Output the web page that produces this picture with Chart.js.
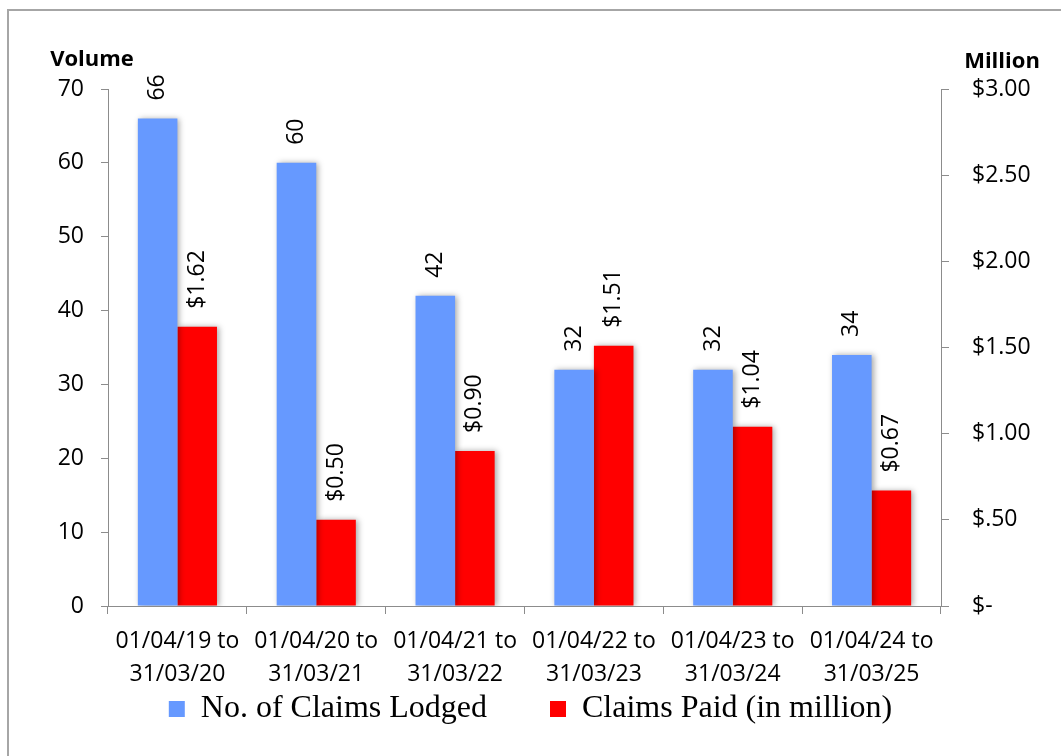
<!DOCTYPE html>
<html>
<head>
<meta charset="utf-8">
<script src="https://cdn.jsdelivr.net/npm/chart.js@4/dist/chart.umd.min.js"></script>
<style>
  html, body { margin: 0; padding: 0; background: #fff; overflow: hidden; }
  #frame { position: absolute; left: 7px; top: 9px; width: 1100px; height: 800px; border: 2px solid #a6a6a6; }
  #wrap { position: absolute; left: 0; top: 0; width: 1061px; height: 756px; }
</style>
</head>
<body>
<div id="frame"></div>
<div id="wrap"><canvas id="claimsChart" width="1061" height="756"></canvas></div>
<script>
// periods shown on the x axis (two lines each)
const periods = [
  ['01/04/19 to', '31/03/20'],
  ['01/04/20 to', '31/03/21'],
  ['01/04/21 to', '31/03/22'],
  ['01/04/22 to', '31/03/23'],
  ['01/04/23 to', '31/03/24'],
  ['01/04/24 to', '31/03/25']
];
const claimsLodged = [66, 60, 42, 32, 32, 34];
const claimsPaid = [1.62, 0.50, 0.90, 1.51, 1.04, 0.67];

const volumeTicks = [0, 10, 20, 30, 40, 50, 60, 70];
const millionTicks = [0, 0.5, 1, 1.5, 2, 2.5, 3];

const tickFont = { family: '"Open Sans", sans-serif', size: 23 };
const axisGrey = '#8c8c8c';

function moneyLabel(v) {
  if (v === 0) return '$-';
  const s = v.toFixed(2);
  return '$' + (v < 1 ? s.slice(1) : s);
}

// soft shadow behind the bars
const barShadow = {
  id: 'barShadow',
  beforeDatasetDraw(chart) {
    const c = chart.ctx;
    c.save();
    c.shadowColor = 'rgba(0,0,0,0.35)';
    c.shadowBlur = 6;
    c.shadowOffsetX = 2;
    c.shadowOffsetY = 0;
  },
  afterDatasetDraw(chart) {
    chart.ctx.restore();
  }
};

// rotated value labels above each bar + axis captions
const barLabels = {
  id: 'barLabels',
  afterDatasetsDraw(chart) {
    const c = chart.ctx;
    c.save();
    c.fillStyle = '#000';
    c.font = `${tickFont.size}px ${tickFont.family}`;
    c.textAlign = 'left';
    c.textBaseline = 'middle';
    chart.data.datasets.forEach((ds, di) => {
      const meta = chart.getDatasetMeta(di);
      meta.data.forEach((bar, i) => {
        const v = ds.data[i];
        const txt = di === 0 ? String(v) : '$' + v.toFixed(2);
        c.save();
        c.translate(bar.x, bar.y - 18);
        c.rotate(-Math.PI / 2);
        c.fillText(txt, 0, 0);
        c.restore();
      });
    });

    const area = chart.chartArea;
    c.font = 'bold 22px "Open Sans", sans-serif';
    c.textAlign = 'center';
    c.fillText('Volume', 92, area.top - 29);
    c.fillText('Million', 1002, area.top - 27);
    c.restore();
  }
};

new Chart(document.getElementById('claimsChart'), {
  type: 'bar',
  data: {
    labels: periods,
    datasets: [
      {
        label: 'No. of Claims Lodged',
        data: claimsLodged,
        backgroundColor: '#6699ff',
        yAxisID: 'y',
        categoryPercentage: 0.57,
        barPercentage: 1.0
      },
      {
        label: 'Claims Paid (in million)',
        data: claimsPaid,
        backgroundColor: '#ff0000',
        yAxisID: 'y1',
        categoryPercentage: 0.57,
        barPercentage: 1.0
      }
    ]
  },
  options: {
    responsive: false,
    animation: false,
    layout: { padding: { left: 10, right: 10, top: 89, bottom: 21 } },
    plugins: {
      legend: {
        position: 'bottom',
        labels: {
          boxWidth: 16,
          boxHeight: 16,
          padding: 7,
          color: '#000',
          font: { family: '"Liberation Serif", "Times New Roman", serif', size: 32 },
          // widen the gap between the two entries
          generateLabels(chart) {
            const items = Chart.defaults.plugins.legend.labels.generateLabels(chart);
            items[0].text += '       ';
            items.forEach(it => { it.lineWidth = 0; });
            return items;
          }
        }
      },
      tooltip: { enabled: false }
    },
    scales: {
      x: {
        grid: { display: true, drawOnChartArea: false, offset: true, tickLength: 8, color: axisGrey },
        border: { color: axisGrey, width: 1 },
        ticks: { color: '#000', font: { ...tickFont, lineHeight: 1.43 }, padding: 11, maxRotation: 0 },
        afterFit: (s) => { s.height = 80; }
      },
      y: {
        position: 'left',
        min: 0,
        max: 70,
        afterBuildTicks: (s) => { s.ticks = volumeTicks.map(v => ({ value: v })); },
        grid: { drawOnChartArea: false, tickLength: 7, color: axisGrey },
        border: { color: axisGrey, width: 1 },
        ticks: { color: '#000', font: tickFont, padding: 17 },
        afterFit: (s) => { s.width = 98; }
      },
      y1: {
        position: 'right',
        min: 0,
        max: 3,
        afterBuildTicks: (s) => { s.ticks = millionTicks.map(v => ({ value: v })); },
        grid: { drawOnChartArea: false, tickLength: 8, color: axisGrey },
        border: { color: axisGrey, width: 1 },
        ticks: { color: '#000', font: tickFont, padding: 23, callback: (v) => moneyLabel(v) },
        afterFit: (s) => { s.width = 110; }
      }
    }
  },
  plugins: [barShadow, barLabels]
});
</script>
</body>
</html>
